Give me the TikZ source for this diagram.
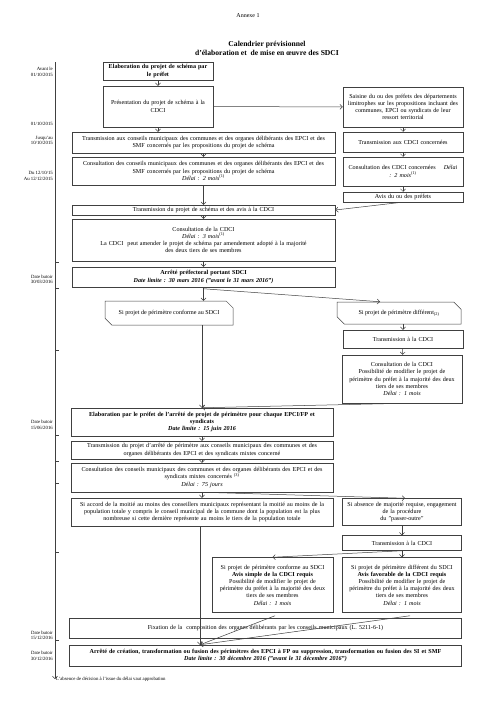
\documentclass[tikz,border=0pt]{standalone}
\usepackage{fontspec}
\setmainfont{Liberation Serif}
\usetikzlibrary{positioning,shapes.misc,arrows.meta}

\begin{document}
\begin{tikzpicture}[
    x=1pt, y=-1pt,
    box/.style={rectangle, draw=black!75, line width=0.5pt, inner sep=1pt, align=center, font=\fontsize{6.1}{7.2}\selectfont},
    cut/.style={box, chamfered rectangle, chamfered rectangle corners={north east, south west}, chamfered rectangle xsep=5pt},
    datelbl/.style={anchor=east, align=right, inner sep=0pt, font=\fontsize{4.8}{5.3}\selectfont},
    arrow/.style={draw=black!75, line width=0.5pt, -{Straight Barb[length=2.5pt,width=5pt]}}
]
    \useasboundingbox (0,0) rectangle (500,707);

    % Title
    \node[font=\fontsize{6}{7}\selectfont] (annexe) at (248,16) {Annexe 1};
    \node[font=\bfseries\fontsize{7.6}{9}\selectfont, align=center] (title) at (267,48.5) {Calendrier prévisionnel\\d'élaboration et \ de mise en œuvre des SDCI};

    % Timeline
    \coordinate (tltop) at (55,62);
    \coordinate (tlend) at (55,679);
    \draw[arrow] (tltop) -- (tlend);
    \foreach \ty in {262,288,350,435,461,483,552,640}
        \draw[draw=black!75, line width=0.4pt] (55,\ty) -- (59,\ty);

    % Dates
    \node[datelbl] (d1) at (53,72) {Avant le\\01/10/2015};
    \node[datelbl] (d2) at (53,124) {01/10/2015};
    \node[datelbl] (d3) at (53,140.5) {Jusqu'au\\10/10/2015};
    \node[datelbl] (d4) at (53,176) {Du 12/10/15\\Au 12/12/2015};
    \node[datelbl] (d5) at (53,279.5) {Date butoir\\30/03/2016};
    \node[datelbl] (d6) at (53,425) {Date butoir\\15/06/2016};
    \node[datelbl] (d7) at (53,635) {Date butoir\\15/12/2016};
    \node[datelbl] (d8) at (53,656) {Date butoir\\30/12/2016};

    % Schema
    \node[box, text width=108pt, minimum height=18pt, font=\bfseries\fontsize{6.1}{7.2}\selectfont] (elab) at (158,71) {Elaboration du projet de schéma par\\le préfet};
    \node[box, text width=108pt, minimum height=41pt] (pres) at (158,106.5) {Présentation du projet de schéma à la\\CDCI};
    \node[box, text width=118pt, minimum height=40pt] (saisine) at (403,107) {Saisine du ou des préfets des départements\\limitrophes sur les propositions incluant des\\communes, EPCI ou syndicats de leur\\ressort territorial};
    \node[box, text width=261pt, minimum height=21pt] (trans1) at (203.5,142.5) {Transmission aux conseils municipaux des communes et des organes délibérants des EPCI et des\\SMF concernés par les propositions du projet de schéma};
    \node[box, text width=118pt, minimum height=20pt] (transcdci) at (403,142) {Transmission aux CDCI concernées};
    \node[box, text width=261pt, minimum height=28pt] (consult1) at (203.5,171) {Consultation des conseils municipaux des communes et des organes délibérants des EPCI et des\\SMF concernés par les propositions du projet de schéma\\\textit{Délai : 2 mois}\textsuperscript{(1)}};
    \node[box, text width=118pt, minimum height=29pt] (consultcdci) at (403,171.5) {Consultation des CDCI concernées \quad\textit{Délai}\\\textit{: 2 mois}\textsuperscript{(1)}};
    \node[box, text width=118pt, minimum height=10pt] (avis) at (403,197) {Avis du ou des préfets};
    \node[box, text width=261pt, minimum height=10pt] (trans2) at (203.5,210) {Transmission du projet de schéma et des avis à la CDCI};
    \node[box, text width=261pt, minimum height=42pt] (consult2) at (203.5,240) {Consultation de la CDCI\\\textit{Délai : 3 mois}\textsuperscript{(1)}\\La CDCI \ peut amender le projet de schéma par amendement adopté à la majorité\\des deux tiers de ses membres};
    \node[box, text width=261pt, minimum height=20pt, font=\bfseries\fontsize{6.1}{7.2}\selectfont] (arrete1) at (203.5,277) {Arrêté préfectoral portant SDCI\\\textit{Date limite : 30 mars 2016 ("avant le 31 mars 2016")}};

    % Perimetres
    \node[cut, minimum width=128pt, minimum height=24pt] (siconf1) at (169,313) {Si projet de périmètre conforme au SDCI};
    \node[cut, minimum width=124pt, minimum height=22pt] (sidiff1) at (399,313) {Si projet de périmètre différent\textsubscript{(2)}};
    \node[box, text width=118pt, minimum height=18pt] (transcdci2) at (403,339) {Transmission à la CDCI};
    \node[box, text width=118pt, minimum height=48pt] (consult3) at (402,379) {Consultation de la CDCI\\Possibilité de modifier le projet de\\périmètre du préfet à la majorité des deux\\tiers de ses membres\\\textit{Délai : 1 mois}};
    \node[box, text width=260pt, minimum height=28pt, font=\bfseries\fontsize{6.1}{7.2}\selectfont] (elab2) at (202,422) {Elaboration par le préfet de l'arrêté de projet de périmètre pour chaque EPCI/FP et\\syndicats\\\textit{Date limite : 15 juin 2016}};
    \node[box, text width=260pt, minimum height=18pt] (trans3) at (202,450) {Transmission du projet d'arrêté de périmètre aux conseils municipaux des communes et des\\organes délibérants des EPCI et des syndicats mixtes concerné};
    \node[box, text width=260pt, minimum height=29pt] (consult4) at (202,477.5) {Consultation des conseils municipaux des communes et des organes délibérants des EPCI et des\\syndicats mixtes concernés \textsuperscript{(3)}\\\textit{Délai : 75 jours}};
    \node[box, text width=260pt, minimum height=28pt] (siaccord) at (202,512) {Si accord de la moitié au moins des conseillers municipaux représentant la moitié au moins de la\\population totale y compris le conseil municipal de la commune dont la population est la plus\\nombreuse si cette dernière représente au moins le tiers de la population totale};
    \node[box, text width=117pt, minimum height=27pt] (siabs) at (402,512) {Si absence de majorité requise, engagement\\de la procédure\\du "passer-outre"};
    \node[box, text width=117pt, minimum height=15pt] (transcdci3) at (402,543) {Transmission à la CDCI};
    \node[box, text width=119pt, minimum height=55pt] (siconf2) at (272.5,585) {Si projet de périmètre conforme au SDCI\\\textbf{Avis simple de la CDCI requis}\\Possibilité de modifier le projet de\\périmètre du préfet à la majorité des deux\\tiers de ses membres\\\textit{Délai : 1 mois}};
    \node[box, text width=117pt, minimum height=55pt] (sidiff2) at (402,585) {Si projet de périmètre différent du SDCI\\\textbf{Avis favorable de la CDCI requis}\\Possibilité de modifier le projet de\\périmètre du préfet à la majorité des deux\\tiers de ses membres\\\textit{Délai : 1 mois}};
    \node[box, text width=390pt, minimum height=20pt] (fixation) at (265.5,628) {Fixation de la \ composition des organes délibérants par les conseils municipaux (L. 5211-6-1)};
    \node[box, text width=390pt, minimum height=21pt, font=\bfseries\fontsize{6.1}{7.2}\selectfont] (arrete2) at (265.5,655.5) {Arrêté de création, transformation ou fusion des périmètres des EPCI à FP ou suppression, transformation ou fusion des SI et SMF\\\textit{Date limite : 30 décembre 2016 ("avant le 31 décembre 2016")}};

    % Note
    \node[anchor=west, inner sep=1pt, font=\fontsize{4.8}{5.3}\selectfont] (note) at (tlend) {L'absence de décision à l'issue du délai vaut approbation};

    % Arrows
    \draw[arrow] (elab) -- (pres);
    \draw[arrow] (pres) -- (saisine);
    \draw[arrow] (pres) -- (pres |- trans1.north);
    \draw[arrow] (saisine) -- (transcdci);
    \draw[arrow] (trans1) -- (consult1);
    \draw[arrow] (transcdci) -- (consultcdci);
    \draw[arrow] (consultcdci) -- (avis);
    \draw[arrow] (consult1) -- (trans2);
    \draw[arrow] ([xshift=-1pt]avis.south) -- (trans2.east);
    \draw[arrow] (trans2) -- (consult2);
    \draw[arrow] (consult2) -- (arrete1);

    \draw[arrow] (arrete1.south) -- (arrete1.south |- siconf1.north);
    \draw[arrow] ([yshift=-1.5pt]arrete1.south) -- ([xshift=-19pt]sidiff1.north);
    \draw[arrow] (sidiff1.south -| transcdci2.north) -- (transcdci2.north);
    \draw[arrow] (transcdci2) -- (consult3);
    \draw[arrow] (siconf1.south -| elab2.north) -- (elab2.north);
    \draw[arrow] ([xshift=4pt]consult3.south) -- (elab2.north);

    \draw[arrow] (elab2) -- (trans3);
    \draw[arrow] (trans3) -- (consult4);
    \draw[arrow] (consult4) -- (siaccord);
    \draw[arrow] (consult4.south) -- ([xshift=3pt]siabs.north);
    \draw[arrow] (siabs) -- (transcdci3);
    \draw[arrow] (transcdci3) -- (sidiff2);
    \draw[arrow] (transcdci3.south) -- (siconf2.north);

    \coordinate (meet) at ([xshift=-2pt]siaccord.south |- arrete2.north);
    \draw[arrow] ([xshift=-2pt]siaccord.south) -- (meet);
    \draw[arrow] ([xshift=2.5pt,yshift=-3pt]siconf2.south) -- (meet);
    \draw[arrow] ([xshift=8pt,yshift=-3pt]sidiff2.south) -- (meet);
\end{tikzpicture}
\end{document}
